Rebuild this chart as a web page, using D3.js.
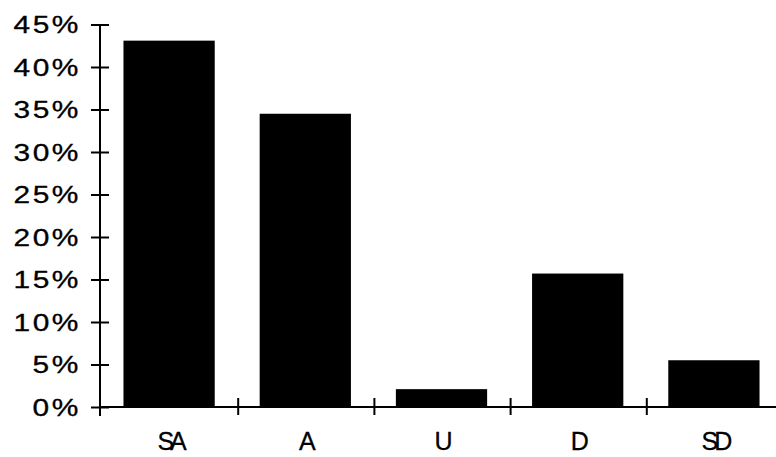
<!DOCTYPE html>
<html>
<head>
<meta charset="utf-8">
<script src="https://cdn.jsdelivr.net/npm/d3@7"></script>
<style>
  html, body { margin: 0; padding: 0; background: #fff; }
  svg { display: block; }
</style>
</head>
<body>
<svg id="chart"></svg>
<script>
    // data
    var categories = ['SA', 'A', 'U', 'D', 'SD'];
    var percents = [43.1, 34.5, 2.1, 15.7, 5.5];
    var yTicks = [0, 5, 10, 15, 20, 25, 30, 35, 40, 45];

    var width = 776, height = 457;
    var axisX = 100, baseY = 407, topY = 24.5;
    var stretch = 1.3; // tick glyphs in the scan are wide

    var svg = d3.select('#chart')
        .attr('width', width)
        .attr('height', height);

    var scaleX = d3.scaleBand()
        .domain(categories)
        .range([102, 783])
        .padding(0);

    var scaleY = d3.scaleLinear()
        .domain([0, 45])
        .range([baseY, topY]);

    var barWidth = scaleX.bandwidth() * 0.67;

    svg.append('g')
        .attr('class', 'bars')
        .selectAll('rect')
        .data(percents)
        .enter().append('rect')
        .attr('x', function (d, i) { return scaleX(categories[i]) + (scaleX.bandwidth() - barWidth) / 2 - 1; })
        .attr('y', function (d) { return scaleY(d); })
        .attr('width', barWidth)
        .attr('height', function (d) { return baseY - scaleY(d); })
        .attr('fill', '#000');

    // y axis, ticks cross the line
    var yAxis = svg.append('g')
        .attr('class', 'y axis')
        .attr('transform', 'translate(' + axisX + ',0)')
        .call(d3.axisLeft(scaleY).tickValues(yTicks).tickSize(9)
            .tickFormat(function (d) { return d + '%'; }));

    yAxis.select('.domain').remove();
    yAxis.append('line')
        .attr('x1', 0).attr('x2', 0)
        .attr('y1', scaleY(45)).attr('y2', baseY + 9)
        .attr('stroke', '#000').attr('stroke-width', 2);
    yAxis.selectAll('.tick line')
        .attr('x1', -9).attr('x2', 9)
        .attr('stroke', '#000').attr('stroke-width', 2);
    yAxis.selectAll('.tick text')
        .attr('x', -19 / stretch)
        .attr('dy', '0.36em')
        .attr('transform', 'scale(' + stretch + ',1)')
        .attr('fill', '#000')
        .attr('stroke', '#000')
        .attr('stroke-width', 0.3)
        .attr('font-size', 23)
        .attr('letter-spacing', 2)
        .attr('font-family', 'Liberation Sans, Arial, sans-serif');

    // x axis: line plus ticks between categories
    var xAxis = svg.append('g').attr('class', 'x axis');

    xAxis.append('line')
        .attr('x1', axisX).attr('x2', width)
        .attr('y1', baseY).attr('y2', baseY)
        .attr('stroke', '#000').attr('stroke-width', 2);

    xAxis.selectAll('line.sep')
        .data(categories.slice(1))
        .enter().append('line')
        .attr('class', 'sep')
        .attr('x1', function (d) { return scaleX(d); })
        .attr('x2', function (d) { return scaleX(d); })
        .attr('y1', baseY - 9)
        .attr('y2', baseY + 8)
        .attr('stroke', '#000').attr('stroke-width', 2);

    xAxis.selectAll('text')
        .data(categories)
        .enter().append('text')
        .attr('x', function (d) { return scaleX(d) + scaleX.bandwidth() / 2 + (d.length > 1 ? 0 : -1); })
        .attr('y', 450)
        .attr('text-anchor', 'middle')
        .attr('font-size', 25)
        .attr('letter-spacing', -4)
        .attr('stroke', '#000')
        .attr('stroke-width', 0.3)
        .attr('font-family', 'Liberation Sans, Arial, sans-serif')
        .text(function (d) { return d; });
</script>
</body>
</html>
